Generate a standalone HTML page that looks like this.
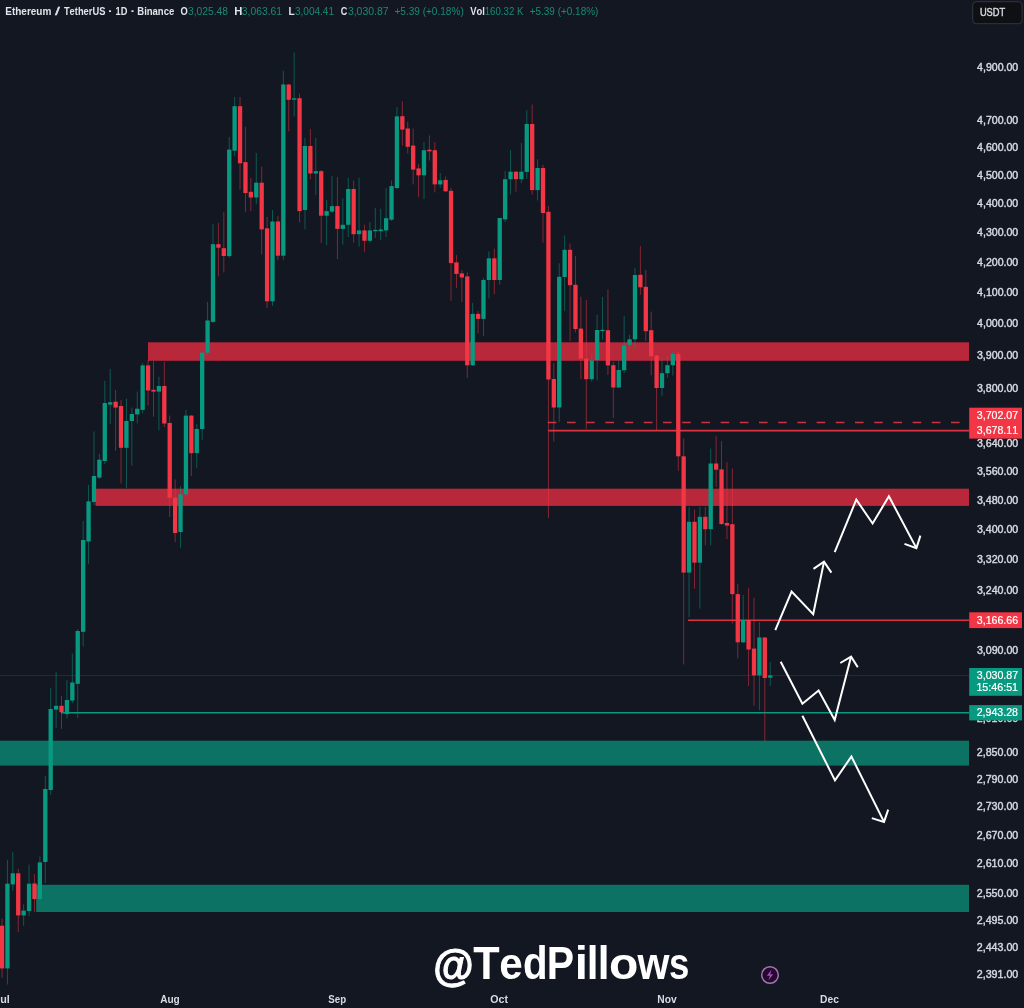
<!DOCTYPE html>
<html><head><meta charset="utf-8"><title>ETHUSDT</title>
<style>html,body{margin:0;padding:0;background:#131722;width:1024px;height:1008px;overflow:hidden}</style>
</head><body>
<svg width="1024" height="1008" viewBox="0 0 1024 1008" style="display:block;will-change:transform">
<rect x="0" y="0" width="1024" height="1008" fill="#131722"/>
<rect x="148" y="342.3" width="821" height="18.50" fill="#b8283a"/>
<rect x="95.5" y="488.7" width="873.5" height="17.20" fill="#b8283a"/>
<rect x="0" y="740.7" width="969" height="24.90" fill="#0c7364"/>
<rect x="36.2" y="884.8" width="932.8" height="27.20" fill="#0c7364"/>
<line x1="0" y1="675.5" x2="969" y2="675.5" stroke="#222b33" stroke-width="1"/>
<line x1="547.8" y1="422.5" x2="969" y2="422.5" stroke="#f23645" stroke-width="1.6" stroke-dasharray="8.6 10.6" opacity="0.85"/>
<line x1="548.3" y1="430.6" x2="969" y2="430.6" stroke="#f23645" stroke-width="1.6" opacity="0.9"/>
<line x1="688" y1="620.2" x2="969" y2="620.2" stroke="#f23645" stroke-width="1.6" opacity="0.9"/>
<line x1="61" y1="712.8" x2="969" y2="712.8" stroke="#089981" stroke-width="1.6"/>
<rect x="1.50" y="918.6" width="1" height="59.20" fill="#f23645" opacity="0.5"/>
<rect x="-0.15" y="925.7" width="4.3" height="42.70" fill="#f23645"/>
<rect x="6.91" y="859.8" width="1" height="124.70" fill="#089981" opacity="0.5"/>
<rect x="5.26" y="883.7" width="4.3" height="84.70" fill="#089981"/>
<rect x="12.32" y="851.9" width="1" height="38.90" fill="#089981" opacity="0.5"/>
<rect x="10.67" y="873.3" width="4.3" height="11.10" fill="#089981"/>
<rect x="17.73" y="868.6" width="1" height="63.40" fill="#f23645" opacity="0.5"/>
<rect x="16.08" y="873.3" width="4.3" height="42.10" fill="#f23645"/>
<rect x="23.14" y="904.3" width="1" height="21.40" fill="#089981" opacity="0.5"/>
<rect x="21.49" y="910.6" width="4.3" height="4.80" fill="#089981"/>
<rect x="28.55" y="864.6" width="1" height="51.60" fill="#089981" opacity="0.5"/>
<rect x="26.90" y="883.7" width="4.3" height="27.30" fill="#089981"/>
<rect x="33.96" y="874.1" width="1" height="38.10" fill="#f23645" opacity="0.5"/>
<rect x="32.31" y="883.5" width="4.3" height="15.60" fill="#f23645"/>
<rect x="39.37" y="856.3" width="1" height="43.70" fill="#089981" opacity="0.5"/>
<rect x="37.72" y="862.4" width="4.3" height="36.60" fill="#089981"/>
<rect x="44.78" y="776" width="1" height="107.00" fill="#089981" opacity="0.5"/>
<rect x="43.13" y="789" width="4.3" height="73.00" fill="#089981"/>
<rect x="50.19" y="688" width="1" height="107.00" fill="#089981" opacity="0.5"/>
<rect x="48.54" y="709" width="4.3" height="81.00" fill="#089981"/>
<rect x="55.60" y="672.2" width="1" height="55.50" fill="#089981" opacity="0.5"/>
<rect x="53.95" y="705.8" width="4.3" height="3.80" fill="#089981"/>
<rect x="61.01" y="696" width="1" height="33.00" fill="#f23645" opacity="0.5"/>
<rect x="59.36" y="705.8" width="4.3" height="6.40" fill="#f23645"/>
<rect x="66.42" y="680" width="1" height="38.60" fill="#089981" opacity="0.5"/>
<rect x="64.77" y="700" width="4.3" height="14.10" fill="#089981"/>
<rect x="71.83" y="653.5" width="1" height="49.70" fill="#089981" opacity="0.5"/>
<rect x="70.18" y="682.5" width="4.3" height="18.10" fill="#089981"/>
<rect x="77.24" y="629" width="1" height="89.00" fill="#089981" opacity="0.5"/>
<rect x="75.59" y="631" width="4.3" height="52.80" fill="#089981"/>
<rect x="82.65" y="521" width="1" height="125.40" fill="#089981" opacity="0.5"/>
<rect x="81.00" y="540" width="4.3" height="91.80" fill="#089981"/>
<rect x="88.06" y="485" width="1" height="78.90" fill="#089981" opacity="0.5"/>
<rect x="86.41" y="501.4" width="4.3" height="40.10" fill="#089981"/>
<rect x="93.47" y="431.4" width="1" height="73.60" fill="#089981" opacity="0.5"/>
<rect x="91.82" y="476" width="4.3" height="26.00" fill="#089981"/>
<rect x="98.88" y="453.8" width="1" height="25.20" fill="#089981" opacity="0.5"/>
<rect x="97.23" y="459.7" width="4.3" height="17.90" fill="#089981"/>
<rect x="104.29" y="380.8" width="1" height="83.20" fill="#089981" opacity="0.5"/>
<rect x="102.64" y="403" width="4.3" height="58.00" fill="#089981"/>
<rect x="109.70" y="369" width="1" height="55.00" fill="#089981" opacity="0.5"/>
<rect x="108.05" y="402.3" width="4.3" height="2.30" fill="#089981"/>
<rect x="115.11" y="389.8" width="1" height="61.00" fill="#f23645" opacity="0.5"/>
<rect x="113.46" y="401.7" width="4.3" height="5.90" fill="#f23645"/>
<rect x="120.52" y="400" width="1" height="83.50" fill="#f23645" opacity="0.5"/>
<rect x="118.87" y="406" width="4.3" height="41.80" fill="#f23645"/>
<rect x="125.93" y="398.7" width="1" height="89.30" fill="#089981" opacity="0.5"/>
<rect x="124.28" y="421" width="4.3" height="26.80" fill="#089981"/>
<rect x="131.34" y="407.6" width="1" height="58.10" fill="#089981" opacity="0.5"/>
<rect x="129.69" y="414" width="4.3" height="7.00" fill="#089981"/>
<rect x="136.75" y="391.6" width="1" height="31.90" fill="#089981" opacity="0.5"/>
<rect x="135.10" y="408.7" width="4.3" height="5.70" fill="#089981"/>
<rect x="142.16" y="363" width="1" height="50.30" fill="#089981" opacity="0.5"/>
<rect x="140.51" y="365.4" width="4.3" height="44.50" fill="#089981"/>
<rect x="147.57" y="359.7" width="1" height="45.60" fill="#f23645" opacity="0.5"/>
<rect x="145.92" y="365.4" width="4.3" height="25.10" fill="#f23645"/>
<rect x="152.98" y="360.8" width="1" height="55.90" fill="#f23645" opacity="0.5"/>
<rect x="151.33" y="389.8" width="4.3" height="1.80" fill="#f23645"/>
<rect x="158.39" y="376.8" width="1" height="53.60" fill="#089981" opacity="0.5"/>
<rect x="156.74" y="386" width="4.3" height="5.60" fill="#089981"/>
<rect x="163.80" y="362" width="1" height="65.00" fill="#f23645" opacity="0.5"/>
<rect x="162.15" y="386" width="4.3" height="37.50" fill="#f23645"/>
<rect x="169.21" y="415.6" width="1" height="101.40" fill="#f23645" opacity="0.5"/>
<rect x="167.56" y="423" width="4.3" height="74.70" fill="#f23645"/>
<rect x="174.62" y="479.4" width="1" height="62.80" fill="#f23645" opacity="0.5"/>
<rect x="172.97" y="497.7" width="4.3" height="35.30" fill="#f23645"/>
<rect x="180.03" y="486.3" width="1" height="61.60" fill="#089981" opacity="0.5"/>
<rect x="178.38" y="494.3" width="4.3" height="37.70" fill="#089981"/>
<rect x="185.44" y="409.9" width="1" height="86.10" fill="#089981" opacity="0.5"/>
<rect x="183.79" y="415.6" width="4.3" height="78.70" fill="#089981"/>
<rect x="190.85" y="415" width="1" height="61.00" fill="#f23645" opacity="0.5"/>
<rect x="189.20" y="415.6" width="4.3" height="37.60" fill="#f23645"/>
<rect x="196.26" y="423.7" width="1" height="44.30" fill="#089981" opacity="0.5"/>
<rect x="194.61" y="429" width="4.3" height="24.10" fill="#089981"/>
<rect x="201.67" y="351" width="1" height="88.70" fill="#089981" opacity="0.5"/>
<rect x="200.02" y="352.7" width="4.3" height="76.30" fill="#089981"/>
<rect x="207.08" y="301.8" width="1" height="53.20" fill="#089981" opacity="0.5"/>
<rect x="205.43" y="320.5" width="4.3" height="32.20" fill="#089981"/>
<rect x="212.49" y="224" width="1" height="99.00" fill="#089981" opacity="0.5"/>
<rect x="210.84" y="244.2" width="4.3" height="77.70" fill="#089981"/>
<rect x="217.90" y="222.8" width="1" height="53.50" fill="#f23645" opacity="0.5"/>
<rect x="216.25" y="244.2" width="4.3" height="3.50" fill="#f23645"/>
<rect x="223.31" y="212" width="1" height="60.50" fill="#f23645" opacity="0.5"/>
<rect x="221.66" y="248.2" width="4.3" height="7.80" fill="#f23645"/>
<rect x="228.72" y="137" width="1" height="121.00" fill="#089981" opacity="0.5"/>
<rect x="227.07" y="149.6" width="4.3" height="106.50" fill="#089981"/>
<rect x="234.13" y="97" width="1" height="59.40" fill="#089981" opacity="0.5"/>
<rect x="232.48" y="106.2" width="4.3" height="44.50" fill="#089981"/>
<rect x="239.54" y="97" width="1" height="92.50" fill="#f23645" opacity="0.5"/>
<rect x="237.89" y="106.2" width="4.3" height="57.10" fill="#f23645"/>
<rect x="244.95" y="126.8" width="1" height="85.50" fill="#f23645" opacity="0.5"/>
<rect x="243.30" y="162.1" width="4.3" height="30.90" fill="#f23645"/>
<rect x="250.36" y="178" width="1" height="33.20" fill="#f23645" opacity="0.5"/>
<rect x="248.71" y="191.8" width="4.3" height="5.70" fill="#f23645"/>
<rect x="255.77" y="153" width="1" height="51.30" fill="#089981" opacity="0.5"/>
<rect x="254.12" y="182.7" width="4.3" height="14.80" fill="#089981"/>
<rect x="261.18" y="166.7" width="1" height="87.80" fill="#f23645" opacity="0.5"/>
<rect x="259.53" y="182.7" width="4.3" height="46.70" fill="#f23645"/>
<rect x="266.59" y="216.9" width="1" height="91.10" fill="#f23645" opacity="0.5"/>
<rect x="264.94" y="228.3" width="4.3" height="73.00" fill="#f23645"/>
<rect x="272.00" y="210" width="1" height="95.90" fill="#089981" opacity="0.5"/>
<rect x="270.35" y="221.5" width="4.3" height="79.80" fill="#089981"/>
<rect x="277.41" y="215.8" width="1" height="44.40" fill="#f23645" opacity="0.5"/>
<rect x="275.76" y="221.5" width="4.3" height="34.20" fill="#f23645"/>
<rect x="282.82" y="70.8" width="1" height="189.40" fill="#089981" opacity="0.5"/>
<rect x="281.17" y="84.5" width="4.3" height="171.20" fill="#089981"/>
<rect x="288.23" y="84" width="1" height="47.30" fill="#f23645" opacity="0.5"/>
<rect x="286.58" y="84.5" width="4.3" height="15.30" fill="#f23645"/>
<rect x="293.64" y="52.5" width="1" height="63.90" fill="#089981" opacity="0.5"/>
<rect x="291.99" y="98.3" width="4.3" height="1.40" fill="#089981"/>
<rect x="299.05" y="93.6" width="1" height="128.90" fill="#f23645" opacity="0.5"/>
<rect x="297.40" y="98.2" width="4.3" height="112.90" fill="#f23645"/>
<rect x="304.46" y="138" width="1" height="91.40" fill="#089981" opacity="0.5"/>
<rect x="302.81" y="146" width="4.3" height="64.00" fill="#089981"/>
<rect x="309.87" y="129" width="1" height="50.20" fill="#f23645" opacity="0.5"/>
<rect x="308.22" y="146" width="4.3" height="27.50" fill="#f23645"/>
<rect x="315.28" y="138" width="1" height="57.00" fill="#089981" opacity="0.5"/>
<rect x="313.63" y="171.2" width="4.3" height="2.30" fill="#089981"/>
<rect x="320.69" y="170" width="1" height="73.00" fill="#f23645" opacity="0.5"/>
<rect x="319.04" y="171.2" width="4.3" height="44.50" fill="#f23645"/>
<rect x="326.10" y="199.7" width="1" height="45.60" fill="#089981" opacity="0.5"/>
<rect x="324.45" y="211.1" width="4.3" height="4.60" fill="#089981"/>
<rect x="331.51" y="175.8" width="1" height="37.20" fill="#089981" opacity="0.5"/>
<rect x="329.86" y="206.1" width="4.3" height="5.50" fill="#089981"/>
<rect x="336.92" y="176.9" width="1" height="82.10" fill="#f23645" opacity="0.5"/>
<rect x="335.27" y="206.1" width="4.3" height="22.80" fill="#f23645"/>
<rect x="342.33" y="198.4" width="1" height="46.20" fill="#089981" opacity="0.5"/>
<rect x="340.68" y="224.8" width="4.3" height="4.10" fill="#089981"/>
<rect x="347.74" y="177.6" width="1" height="59.40" fill="#089981" opacity="0.5"/>
<rect x="346.09" y="189" width="4.3" height="35.80" fill="#089981"/>
<rect x="353.15" y="180.5" width="1" height="62.20" fill="#f23645" opacity="0.5"/>
<rect x="351.50" y="189" width="4.3" height="45.20" fill="#f23645"/>
<rect x="358.56" y="177.6" width="1" height="68.90" fill="#089981" opacity="0.5"/>
<rect x="356.91" y="230.4" width="4.3" height="3.80" fill="#089981"/>
<rect x="363.97" y="224.8" width="1" height="27.30" fill="#f23645" opacity="0.5"/>
<rect x="362.32" y="230.4" width="4.3" height="10.40" fill="#f23645"/>
<rect x="369.38" y="222" width="1" height="20.70" fill="#089981" opacity="0.5"/>
<rect x="367.73" y="230.4" width="4.3" height="10.40" fill="#089981"/>
<rect x="374.79" y="207.8" width="1" height="30.20" fill="#089981" opacity="0.5"/>
<rect x="373.14" y="229.9" width="4.3" height="1.30" fill="#089981"/>
<rect x="380.20" y="208.8" width="1" height="31.10" fill="#089981" opacity="0.5"/>
<rect x="378.55" y="229.5" width="4.3" height="1.70" fill="#089981"/>
<rect x="385.61" y="188" width="1" height="49.00" fill="#089981" opacity="0.5"/>
<rect x="383.96" y="218.2" width="4.3" height="12.20" fill="#089981"/>
<rect x="391.02" y="180.5" width="1" height="40.50" fill="#089981" opacity="0.5"/>
<rect x="389.37" y="186.1" width="4.3" height="33.60" fill="#089981"/>
<rect x="396.43" y="107" width="1" height="82.00" fill="#089981" opacity="0.5"/>
<rect x="394.78" y="116.4" width="4.3" height="71.60" fill="#089981"/>
<rect x="401.84" y="101.3" width="1" height="44.30" fill="#f23645" opacity="0.5"/>
<rect x="400.19" y="116.2" width="4.3" height="13.40" fill="#f23645"/>
<rect x="407.25" y="121.7" width="1" height="31.90" fill="#f23645" opacity="0.5"/>
<rect x="405.60" y="128.5" width="4.3" height="18.30" fill="#f23645"/>
<rect x="412.66" y="128.5" width="1" height="55.90" fill="#f23645" opacity="0.5"/>
<rect x="411.01" y="145.6" width="4.3" height="24.00" fill="#f23645"/>
<rect x="418.07" y="163.9" width="1" height="33.10" fill="#f23645" opacity="0.5"/>
<rect x="416.42" y="168.4" width="4.3" height="6.90" fill="#f23645"/>
<rect x="423.48" y="142.2" width="1" height="57.00" fill="#089981" opacity="0.5"/>
<rect x="421.83" y="150.2" width="4.3" height="25.10" fill="#089981"/>
<rect x="428.89" y="135.4" width="1" height="25.10" fill="#f23645" opacity="0.5"/>
<rect x="427.24" y="149.7" width="4.3" height="1.60" fill="#f23645"/>
<rect x="434.30" y="142.2" width="1" height="50.20" fill="#f23645" opacity="0.5"/>
<rect x="432.65" y="150.2" width="4.3" height="34.20" fill="#f23645"/>
<rect x="439.71" y="173" width="1" height="14.80" fill="#089981" opacity="0.5"/>
<rect x="438.06" y="180.3" width="4.3" height="4.10" fill="#089981"/>
<rect x="445.12" y="176.4" width="1" height="15.60" fill="#f23645" opacity="0.5"/>
<rect x="443.47" y="179.9" width="4.3" height="11.40" fill="#f23645"/>
<rect x="450.53" y="187.8" width="1" height="113.00" fill="#f23645" opacity="0.5"/>
<rect x="448.88" y="190.8" width="4.3" height="72.30" fill="#f23645"/>
<rect x="455.94" y="255" width="1" height="33.20" fill="#f23645" opacity="0.5"/>
<rect x="454.29" y="262.4" width="4.3" height="11.50" fill="#f23645"/>
<rect x="461.35" y="270" width="1" height="32.00" fill="#f23645" opacity="0.5"/>
<rect x="459.70" y="273.4" width="4.3" height="4.10" fill="#f23645"/>
<rect x="466.76" y="272.2" width="1" height="105.60" fill="#f23645" opacity="0.5"/>
<rect x="465.11" y="276.4" width="4.3" height="88.90" fill="#f23645"/>
<rect x="472.17" y="302.8" width="1" height="63.20" fill="#089981" opacity="0.5"/>
<rect x="470.52" y="313.9" width="4.3" height="51.40" fill="#089981"/>
<rect x="477.58" y="311" width="1" height="22.30" fill="#f23645" opacity="0.5"/>
<rect x="475.93" y="313.9" width="4.3" height="5.00" fill="#f23645"/>
<rect x="482.99" y="277.8" width="1" height="58.20" fill="#089981" opacity="0.5"/>
<rect x="481.34" y="280" width="4.3" height="38.90" fill="#089981"/>
<rect x="488.40" y="251.4" width="1" height="47.20" fill="#089981" opacity="0.5"/>
<rect x="486.75" y="258.3" width="4.3" height="21.70" fill="#089981"/>
<rect x="493.81" y="248.6" width="1" height="45.80" fill="#f23645" opacity="0.5"/>
<rect x="492.16" y="258.3" width="4.3" height="21.70" fill="#f23645"/>
<rect x="499.22" y="218" width="1" height="66.70" fill="#089981" opacity="0.5"/>
<rect x="497.57" y="218" width="4.3" height="62.00" fill="#089981"/>
<rect x="504.63" y="170.8" width="1" height="51.20" fill="#089981" opacity="0.5"/>
<rect x="502.98" y="179.2" width="4.3" height="40.20" fill="#089981"/>
<rect x="510.04" y="150" width="1" height="44.40" fill="#089981" opacity="0.5"/>
<rect x="508.39" y="171.7" width="4.3" height="7.50" fill="#089981"/>
<rect x="515.45" y="171" width="1" height="20.70" fill="#f23645" opacity="0.5"/>
<rect x="513.80" y="171.7" width="4.3" height="7.50" fill="#f23645"/>
<rect x="520.86" y="143" width="1" height="40.30" fill="#089981" opacity="0.5"/>
<rect x="519.21" y="171.7" width="4.3" height="7.50" fill="#089981"/>
<rect x="526.27" y="110.3" width="1" height="68.40" fill="#089981" opacity="0.5"/>
<rect x="524.62" y="124" width="4.3" height="47.90" fill="#089981"/>
<rect x="531.68" y="104.6" width="1" height="90.10" fill="#f23645" opacity="0.5"/>
<rect x="530.03" y="124" width="4.3" height="66.10" fill="#f23645"/>
<rect x="537.09" y="159.3" width="1" height="41.10" fill="#089981" opacity="0.5"/>
<rect x="535.44" y="168" width="4.3" height="22.10" fill="#089981"/>
<rect x="542.50" y="165" width="1" height="77.60" fill="#f23645" opacity="0.5"/>
<rect x="540.85" y="168" width="4.3" height="45.00" fill="#f23645"/>
<rect x="547.91" y="206" width="1" height="312.00" fill="#f23645" opacity="0.5"/>
<rect x="546.26" y="211.8" width="4.3" height="167.70" fill="#f23645"/>
<rect x="553.32" y="363.3" width="1" height="78.40" fill="#f23645" opacity="0.5"/>
<rect x="551.67" y="379" width="4.3" height="28.50" fill="#f23645"/>
<rect x="558.73" y="263.3" width="1" height="159.00" fill="#089981" opacity="0.5"/>
<rect x="557.08" y="276.8" width="4.3" height="130.70" fill="#089981"/>
<rect x="564.14" y="235.6" width="1" height="75.40" fill="#089981" opacity="0.5"/>
<rect x="562.49" y="249.8" width="4.3" height="27.20" fill="#089981"/>
<rect x="569.55" y="243.5" width="1" height="97.50" fill="#f23645" opacity="0.5"/>
<rect x="567.90" y="249.8" width="4.3" height="35.40" fill="#f23645"/>
<rect x="574.96" y="256.2" width="1" height="76.20" fill="#f23645" opacity="0.5"/>
<rect x="573.31" y="284.8" width="4.3" height="44.20" fill="#f23645"/>
<rect x="580.37" y="296.7" width="1" height="82.50" fill="#f23645" opacity="0.5"/>
<rect x="578.72" y="328.6" width="4.3" height="30.00" fill="#f23645"/>
<rect x="585.78" y="300" width="1" height="129.00" fill="#f23645" opacity="0.5"/>
<rect x="584.13" y="358.6" width="4.3" height="20.60" fill="#f23645"/>
<rect x="591.19" y="355" width="1" height="26.60" fill="#089981" opacity="0.5"/>
<rect x="589.54" y="360.4" width="4.3" height="18.80" fill="#089981"/>
<rect x="596.60" y="314.7" width="1" height="65.70" fill="#089981" opacity="0.5"/>
<rect x="594.95" y="330" width="4.3" height="30.00" fill="#089981"/>
<rect x="602.01" y="297" width="1" height="42.50" fill="#089981" opacity="0.5"/>
<rect x="600.36" y="329.8" width="4.3" height="1.20" fill="#089981"/>
<rect x="607.42" y="289.4" width="1" height="85.60" fill="#f23645" opacity="0.5"/>
<rect x="605.77" y="330.2" width="4.3" height="35.20" fill="#f23645"/>
<rect x="612.83" y="361.6" width="1" height="56.30" fill="#f23645" opacity="0.5"/>
<rect x="611.18" y="365.2" width="4.3" height="22.30" fill="#f23645"/>
<rect x="618.24" y="360.7" width="1" height="27.30" fill="#089981" opacity="0.5"/>
<rect x="616.59" y="370" width="4.3" height="17.50" fill="#089981"/>
<rect x="623.65" y="316" width="1" height="57.00" fill="#089981" opacity="0.5"/>
<rect x="622.00" y="345.5" width="4.3" height="24.80" fill="#089981"/>
<rect x="629.06" y="334.8" width="1" height="15.20" fill="#089981" opacity="0.5"/>
<rect x="627.41" y="339.3" width="4.3" height="5.50" fill="#089981"/>
<rect x="634.47" y="267.7" width="1" height="81.30" fill="#089981" opacity="0.5"/>
<rect x="632.82" y="275" width="4.3" height="64.30" fill="#089981"/>
<rect x="639.88" y="246" width="1" height="48.80" fill="#f23645" opacity="0.5"/>
<rect x="638.23" y="274.8" width="4.3" height="12.50" fill="#f23645"/>
<rect x="645.29" y="269.8" width="1" height="71.20" fill="#f23645" opacity="0.5"/>
<rect x="643.64" y="286.8" width="4.3" height="44.40" fill="#f23645"/>
<rect x="650.70" y="311.6" width="1" height="63.70" fill="#f23645" opacity="0.5"/>
<rect x="649.05" y="330.2" width="4.3" height="26.00" fill="#f23645"/>
<rect x="656.11" y="355" width="1" height="75.20" fill="#f23645" opacity="0.5"/>
<rect x="654.46" y="355.6" width="4.3" height="32.40" fill="#f23645"/>
<rect x="661.52" y="359.5" width="1" height="36.50" fill="#089981" opacity="0.5"/>
<rect x="659.87" y="373.2" width="4.3" height="14.80" fill="#089981"/>
<rect x="666.93" y="356" width="1" height="21.80" fill="#089981" opacity="0.5"/>
<rect x="665.28" y="365.2" width="4.3" height="8.00" fill="#089981"/>
<rect x="672.34" y="351.5" width="1" height="24.00" fill="#089981" opacity="0.5"/>
<rect x="670.69" y="353.8" width="4.3" height="11.40" fill="#089981"/>
<rect x="677.75" y="351.5" width="1" height="119.50" fill="#f23645" opacity="0.5"/>
<rect x="676.10" y="353.8" width="4.3" height="102.50" fill="#f23645"/>
<rect x="683.16" y="438.5" width="1" height="225.90" fill="#f23645" opacity="0.5"/>
<rect x="681.51" y="456.3" width="4.3" height="116.30" fill="#f23645"/>
<rect x="688.57" y="506.9" width="1" height="110.40" fill="#089981" opacity="0.5"/>
<rect x="686.92" y="521.8" width="4.3" height="50.80" fill="#089981"/>
<rect x="693.98" y="509.4" width="1" height="79.30" fill="#f23645" opacity="0.5"/>
<rect x="692.33" y="521.8" width="4.3" height="40.90" fill="#f23645"/>
<rect x="699.39" y="506.9" width="1" height="101.70" fill="#089981" opacity="0.5"/>
<rect x="697.74" y="516.8" width="4.3" height="45.90" fill="#089981"/>
<rect x="704.80" y="506.9" width="1" height="38.40" fill="#f23645" opacity="0.5"/>
<rect x="703.15" y="516.8" width="4.3" height="12.40" fill="#f23645"/>
<rect x="710.21" y="448.6" width="1" height="96.70" fill="#089981" opacity="0.5"/>
<rect x="708.56" y="463.5" width="4.3" height="65.70" fill="#089981"/>
<rect x="715.62" y="436.2" width="1" height="50.80" fill="#f23645" opacity="0.5"/>
<rect x="713.97" y="463.5" width="4.3" height="6.20" fill="#f23645"/>
<rect x="721.03" y="441.2" width="1" height="83.80" fill="#f23645" opacity="0.5"/>
<rect x="719.38" y="469.4" width="4.3" height="54.60" fill="#f23645"/>
<rect x="726.44" y="462.2" width="1" height="76.80" fill="#f23645" opacity="0.5"/>
<rect x="724.79" y="523" width="4.3" height="2.50" fill="#f23645"/>
<rect x="731.85" y="468.4" width="1" height="155.20" fill="#f23645" opacity="0.5"/>
<rect x="730.20" y="524.2" width="4.3" height="69.90" fill="#f23645"/>
<rect x="737.26" y="584.3" width="1" height="74.10" fill="#f23645" opacity="0.5"/>
<rect x="735.61" y="594.1" width="4.3" height="48.20" fill="#f23645"/>
<rect x="742.67" y="595" width="1" height="48.00" fill="#089981" opacity="0.5"/>
<rect x="741.02" y="620" width="4.3" height="22.30" fill="#089981"/>
<rect x="748.08" y="587.9" width="1" height="98.10" fill="#f23645" opacity="0.5"/>
<rect x="746.43" y="620" width="4.3" height="29.50" fill="#f23645"/>
<rect x="753.49" y="597.7" width="1" height="108.00" fill="#f23645" opacity="0.5"/>
<rect x="751.84" y="648.6" width="4.3" height="26.80" fill="#f23645"/>
<rect x="758.90" y="621.8" width="1" height="88.40" fill="#089981" opacity="0.5"/>
<rect x="757.25" y="637.5" width="4.3" height="37.90" fill="#089981"/>
<rect x="764.31" y="637" width="1" height="104.40" fill="#f23645" opacity="0.5"/>
<rect x="762.66" y="637.5" width="4.3" height="40.50" fill="#f23645"/>
<rect x="769.72" y="662" width="1" height="24.00" fill="#089981" opacity="0.5"/>
<rect x="768.07" y="675.4" width="4.3" height="2.30" fill="#089981"/>
<polyline points="775.3,630.2 791.6,591.6 813.2,614.1 824,561.7" fill="none" stroke="#ffffff" stroke-width="2" stroke-linejoin="miter" stroke-linecap="butt"/>
<polyline points="813.5,568.8 824,561.7 831.4,572.6" fill="none" stroke="#ffffff" stroke-width="2" stroke-linejoin="miter" stroke-linecap="butt"/>
<polyline points="834.7,552.2 856.3,499.6 872.6,523.5 888.9,496.3 916.4,548.1" fill="none" stroke="#ffffff" stroke-width="2" stroke-linejoin="miter" stroke-linecap="butt"/>
<polyline points="904.5,543.9 916.4,548.1 920.4,535.6" fill="none" stroke="#ffffff" stroke-width="2" stroke-linejoin="miter" stroke-linecap="butt"/>
<polyline points="780.7,661.7 802.4,703.7 818.6,690.5 834.7,720.1 851.1,656.6" fill="none" stroke="#ffffff" stroke-width="2" stroke-linejoin="miter" stroke-linecap="butt"/>
<polyline points="840.3,663 851.1,656.6 857.8,667.3" fill="none" stroke="#ffffff" stroke-width="2" stroke-linejoin="miter" stroke-linecap="butt"/>
<polyline points="802.4,715.8 835,780.4 851.4,756.5 884,821.9" fill="none" stroke="#ffffff" stroke-width="2" stroke-linejoin="miter" stroke-linecap="butt"/>
<polyline points="871.8,818.1 884,821.9 888.2,809.7" fill="none" stroke="#ffffff" stroke-width="2" stroke-linejoin="miter" stroke-linecap="butt"/>
<text transform="translate(977.06,70.8) scale(1.0191,1)" font-family='"Liberation Sans", sans-serif' font-size="10.4" font-weight="normal" fill="#d8dbe2" style="font-kerning:none" stroke="#d1d4dc" stroke-width="0.45">4,900.00</text>
<text transform="translate(977.06,123.5) scale(1.0191,1)" font-family='"Liberation Sans", sans-serif' font-size="10.4" font-weight="normal" fill="#d8dbe2" style="font-kerning:none" stroke="#d1d4dc" stroke-width="0.45">4,700.00</text>
<text transform="translate(977.06,150.7) scale(1.0191,1)" font-family='"Liberation Sans", sans-serif' font-size="10.4" font-weight="normal" fill="#d8dbe2" style="font-kerning:none" stroke="#d1d4dc" stroke-width="0.45">4,600.00</text>
<text transform="translate(977.06,178.5) scale(1.0191,1)" font-family='"Liberation Sans", sans-serif' font-size="10.4" font-weight="normal" fill="#d8dbe2" style="font-kerning:none" stroke="#d1d4dc" stroke-width="0.45">4,500.00</text>
<text transform="translate(977.06,206.9) scale(1.0191,1)" font-family='"Liberation Sans", sans-serif' font-size="10.4" font-weight="normal" fill="#d8dbe2" style="font-kerning:none" stroke="#d1d4dc" stroke-width="0.45">4,400.00</text>
<text transform="translate(977.06,236.0) scale(1.0191,1)" font-family='"Liberation Sans", sans-serif' font-size="10.4" font-weight="normal" fill="#d8dbe2" style="font-kerning:none" stroke="#d1d4dc" stroke-width="0.45">4,300.00</text>
<text transform="translate(977.06,265.7) scale(1.0191,1)" font-family='"Liberation Sans", sans-serif' font-size="10.4" font-weight="normal" fill="#d8dbe2" style="font-kerning:none" stroke="#d1d4dc" stroke-width="0.45">4,200.00</text>
<text transform="translate(977.06,296.2) scale(1.0191,1)" font-family='"Liberation Sans", sans-serif' font-size="10.4" font-weight="normal" fill="#d8dbe2" style="font-kerning:none" stroke="#d1d4dc" stroke-width="0.45">4,100.00</text>
<text transform="translate(977.06,327.4) scale(1.0191,1)" font-family='"Liberation Sans", sans-serif' font-size="10.4" font-weight="normal" fill="#d8dbe2" style="font-kerning:none" stroke="#d1d4dc" stroke-width="0.45">4,000.00</text>
<text transform="translate(976.89,359.4) scale(1.0232,1)" font-family='"Liberation Sans", sans-serif' font-size="10.4" font-weight="normal" fill="#d8dbe2" style="font-kerning:none" stroke="#d1d4dc" stroke-width="0.45">3,900.00</text>
<text transform="translate(976.89,392.3) scale(1.0232,1)" font-family='"Liberation Sans", sans-serif' font-size="10.4" font-weight="normal" fill="#d8dbe2" style="font-kerning:none" stroke="#d1d4dc" stroke-width="0.45">3,800.00</text>
<text transform="translate(976.89,446.7) scale(1.0232,1)" font-family='"Liberation Sans", sans-serif' font-size="10.4" font-weight="normal" fill="#d8dbe2" style="font-kerning:none" stroke="#d1d4dc" stroke-width="0.45">3,640.00</text>
<text transform="translate(976.89,474.8) scale(1.0232,1)" font-family='"Liberation Sans", sans-serif' font-size="10.4" font-weight="normal" fill="#d8dbe2" style="font-kerning:none" stroke="#d1d4dc" stroke-width="0.45">3,560.00</text>
<text transform="translate(976.89,503.5) scale(1.0232,1)" font-family='"Liberation Sans", sans-serif' font-size="10.4" font-weight="normal" fill="#d8dbe2" style="font-kerning:none" stroke="#d1d4dc" stroke-width="0.45">3,480.00</text>
<text transform="translate(976.89,532.9) scale(1.0232,1)" font-family='"Liberation Sans", sans-serif' font-size="10.4" font-weight="normal" fill="#d8dbe2" style="font-kerning:none" stroke="#d1d4dc" stroke-width="0.45">3,400.00</text>
<text transform="translate(976.89,563.0) scale(1.0232,1)" font-family='"Liberation Sans", sans-serif' font-size="10.4" font-weight="normal" fill="#d8dbe2" style="font-kerning:none" stroke="#d1d4dc" stroke-width="0.45">3,320.00</text>
<text transform="translate(976.89,593.9) scale(1.0232,1)" font-family='"Liberation Sans", sans-serif' font-size="10.4" font-weight="normal" fill="#d8dbe2" style="font-kerning:none" stroke="#d1d4dc" stroke-width="0.45">3,240.00</text>
<text transform="translate(976.89,653.8) scale(1.0232,1)" font-family='"Liberation Sans", sans-serif' font-size="10.4" font-weight="normal" fill="#d8dbe2" style="font-kerning:none" stroke="#d1d4dc" stroke-width="0.45">3,090.00</text>
<text transform="translate(976.76,756.1) scale(1.0265,1)" font-family='"Liberation Sans", sans-serif' font-size="10.4" font-weight="normal" fill="#d8dbe2" style="font-kerning:none" stroke="#d1d4dc" stroke-width="0.45">2,850.00</text>
<text transform="translate(976.76,783.0) scale(1.0265,1)" font-family='"Liberation Sans", sans-serif' font-size="10.4" font-weight="normal" fill="#d8dbe2" style="font-kerning:none" stroke="#d1d4dc" stroke-width="0.45">2,790.00</text>
<text transform="translate(976.76,810.4) scale(1.0265,1)" font-family='"Liberation Sans", sans-serif' font-size="10.4" font-weight="normal" fill="#d8dbe2" style="font-kerning:none" stroke="#d1d4dc" stroke-width="0.45">2,730.00</text>
<text transform="translate(976.76,838.5) scale(1.0265,1)" font-family='"Liberation Sans", sans-serif' font-size="10.4" font-weight="normal" fill="#d8dbe2" style="font-kerning:none" stroke="#d1d4dc" stroke-width="0.45">2,670.00</text>
<text transform="translate(976.76,867.3) scale(1.0265,1)" font-family='"Liberation Sans", sans-serif' font-size="10.4" font-weight="normal" fill="#d8dbe2" style="font-kerning:none" stroke="#d1d4dc" stroke-width="0.45">2,610.00</text>
<text transform="translate(976.76,896.7) scale(1.0265,1)" font-family='"Liberation Sans", sans-serif' font-size="10.4" font-weight="normal" fill="#d8dbe2" style="font-kerning:none" stroke="#d1d4dc" stroke-width="0.45">2,550.00</text>
<text transform="translate(976.76,924.3) scale(1.0265,1)" font-family='"Liberation Sans", sans-serif' font-size="10.4" font-weight="normal" fill="#d8dbe2" style="font-kerning:none" stroke="#d1d4dc" stroke-width="0.45">2,495.00</text>
<text transform="translate(976.76,950.9) scale(1.0265,1)" font-family='"Liberation Sans", sans-serif' font-size="10.4" font-weight="normal" fill="#d8dbe2" style="font-kerning:none" stroke="#d1d4dc" stroke-width="0.45">2,443.00</text>
<text transform="translate(976.76,978.1) scale(1.0265,1)" font-family='"Liberation Sans", sans-serif' font-size="10.4" font-weight="normal" fill="#d8dbe2" style="font-kerning:none" stroke="#d1d4dc" stroke-width="0.45">2,391.00</text>
<text transform="translate(976.76,722.2) scale(1.0265,1)" font-family='"Liberation Sans", sans-serif' font-size="10.4" font-weight="normal" fill="#d8dbe2" style="font-kerning:none" stroke="#d1d4dc" stroke-width="0.45">2,910.00</text>
<rect x="969.2" y="407.7" width="52.8" height="30.90" fill="#f23645"/>
<text transform="translate(976.80,419.1) scale(1.0211,1)" font-family='"Liberation Sans", sans-serif' font-size="10.4" font-weight="normal" fill="#ffffff" style="font-kerning:none" stroke="#ffffff" stroke-width="0.2">3,702.07</text>
<text transform="translate(976.80,434.3) scale(1.0207,1)" font-family='"Liberation Sans", sans-serif' font-size="10.4" font-weight="normal" fill="#ffffff" style="font-kerning:none" stroke="#ffffff" stroke-width="0.2">3,678.11</text>
<rect x="969.2" y="612.3" width="52.8" height="15.80" fill="#f23645"/>
<text transform="translate(976.80,623.9) scale(1.0194,1)" font-family='"Liberation Sans", sans-serif' font-size="10.4" font-weight="normal" fill="#ffffff" style="font-kerning:none" stroke="#ffffff" stroke-width="0.2">3,166.66</text>
<rect x="969.2" y="668" width="52.8" height="27.80" fill="#089981"/>
<text transform="translate(976.80,678.8) scale(1.0211,1)" font-family='"Liberation Sans", sans-serif' font-size="10.4" font-weight="normal" fill="#ffffff" style="font-kerning:none" stroke="#ffffff" stroke-width="0.2">3,030.87</text>
<text transform="translate(976.38,690.9) scale(1.0311,1)" font-family='"Liberation Sans", sans-serif' font-size="10.4" font-weight="normal" fill="#ffffff" style="font-kerning:none" stroke="#ffffff" stroke-width="0.2">15:46:51</text>
<rect x="969.2" y="705.1" width="52.8" height="15.30" fill="#089981"/>
<text transform="translate(976.67,715.9) scale(1.0226,1)" font-family='"Liberation Sans", sans-serif' font-size="10.4" font-weight="normal" fill="#ffffff" style="font-kerning:none" stroke="#ffffff" stroke-width="0.2">2,943.28</text>
<rect x="972.7" y="1.7" width="49.4" height="22" rx="3.5" fill="#0f1013" stroke="#33363f" stroke-width="1"/>
<text transform="translate(979.88,16.3) scale(0.8948,1)" font-family='"Liberation Sans", sans-serif' font-size="10.4" font-weight="normal" fill="#d8dbe2" style="font-kerning:none" stroke="#d1d4dc" stroke-width="0.45">USDT</text>
<text transform="translate(5.23,15.3) scale(0.9723,1)" font-family='"Liberation Sans", sans-serif' font-size="10.3" font-weight="bold" fill="#e1e4ea" style="font-kerning:none" >Ethereum</text>
<text transform="translate(63.89,15.3) scale(0.9079,1)" font-family='"Liberation Sans", sans-serif' font-size="10.3" font-weight="bold" fill="#e1e4ea" style="font-kerning:none" >TetherUS</text>
<text transform="translate(108.02,15.3) scale(1.3808,1)" font-family='"Liberation Sans", sans-serif' font-size="10.3" font-weight="bold" fill="#e1e4ea" style="font-kerning:none" >·</text>
<text transform="translate(115.61,15.3) scale(0.9019,1)" font-family='"Liberation Sans", sans-serif' font-size="10.3" font-weight="bold" fill="#e1e4ea" style="font-kerning:none" >1D</text>
<text transform="translate(130.52,15.3) scale(1.3808,1)" font-family='"Liberation Sans", sans-serif' font-size="10.3" font-weight="bold" fill="#e1e4ea" style="font-kerning:none" >·</text>
<text transform="translate(137.26,15.3) scale(0.9250,1)" font-family='"Liberation Sans", sans-serif' font-size="10.3" font-weight="bold" fill="#e1e4ea" style="font-kerning:none" >Binance</text>
<text transform="translate(180.52,15.3) scale(0.9082,1)" font-family='"Liberation Sans", sans-serif' font-size="10.3" font-weight="bold" fill="#e1e4ea" style="font-kerning:none" >O</text>
<text transform="translate(234.25,15.3) scale(1.0900,1)" font-family='"Liberation Sans", sans-serif' font-size="10.3" font-weight="bold" fill="#e1e4ea" style="font-kerning:none" >H</text>
<text transform="translate(288.52,15.3) scale(0.9838,1)" font-family='"Liberation Sans", sans-serif' font-size="10.3" font-weight="bold" fill="#e1e4ea" style="font-kerning:none" >L</text>
<text transform="translate(340.83,15.3) scale(0.8761,1)" font-family='"Liberation Sans", sans-serif' font-size="10.3" font-weight="bold" fill="#e1e4ea" style="font-kerning:none" >C</text>
<text transform="translate(470.24,15.3) scale(0.9196,1)" font-family='"Liberation Sans", sans-serif' font-size="10.3" font-weight="bold" fill="#e1e4ea" style="font-kerning:none" >Vol</text>
<text transform="translate(55.20,15.3) scale(1.5376,1)" font-family='"Liberation Sans", sans-serif' font-size="10.3" font-weight="normal" fill="#e1e4ea" style="font-kerning:none" stroke="#e1e4ea" stroke-width="0.5">/</text>
<text transform="translate(187.91,15.3) scale(1.0037,1)" font-family='"Liberation Sans", sans-serif' font-size="10.3" font-weight="normal" fill="#188a75" style="font-kerning:none" >3,025.48</text>
<text transform="translate(241.81,15.3) scale(1.0051,1)" font-family='"Liberation Sans", sans-serif' font-size="10.3" font-weight="normal" fill="#188a75" style="font-kerning:none" >3,063.61</text>
<text transform="translate(294.92,15.3) scale(0.9771,1)" font-family='"Liberation Sans", sans-serif' font-size="10.3" font-weight="normal" fill="#188a75" style="font-kerning:none" >3,004.41</text>
<text transform="translate(347.90,15.3) scale(1.0157,1)" font-family='"Liberation Sans", sans-serif' font-size="10.3" font-weight="normal" fill="#188a75" style="font-kerning:none" >3,030.87</text>
<text transform="translate(394.41,15.3) scale(0.9776,1)" font-family='"Liberation Sans", sans-serif' font-size="10.3" font-weight="normal" fill="#188a75" style="font-kerning:none" >+5.39 (+0.18%)</text>
<text transform="translate(484.66,15.3) scale(0.9421,1)" font-family='"Liberation Sans", sans-serif' font-size="10.3" font-weight="normal" fill="#188a75" style="font-kerning:none" >160.32 K</text>
<text transform="translate(529.71,15.3) scale(0.9676,1)" font-family='"Liberation Sans", sans-serif' font-size="10.3" font-weight="normal" fill="#188a75" style="font-kerning:none" >+5.39 (+0.18%)</text>
<text transform="translate(-5.76,1003.2) scale(1.0016,1)" font-family='"Liberation Sans", sans-serif' font-size="10.8" font-weight="bold" fill="#d8dbe2" style="font-kerning:none" >Jul</text>
<text transform="translate(160.15,1003.2) scale(0.9349,1)" font-family='"Liberation Sans", sans-serif' font-size="10.8" font-weight="bold" fill="#d8dbe2" style="font-kerning:none" >Aug</text>
<text transform="translate(328.32,1003.2) scale(0.9027,1)" font-family='"Liberation Sans", sans-serif' font-size="10.8" font-weight="bold" fill="#d8dbe2" style="font-kerning:none" >Sep</text>
<text transform="translate(490.26,1003.2) scale(0.9869,1)" font-family='"Liberation Sans", sans-serif' font-size="10.8" font-weight="bold" fill="#d8dbe2" style="font-kerning:none" >Oct</text>
<text transform="translate(657.21,1003.2) scale(0.9525,1)" font-family='"Liberation Sans", sans-serif' font-size="10.8" font-weight="bold" fill="#d8dbe2" style="font-kerning:none" >Nov</text>
<text transform="translate(820.11,1003.2) scale(0.9481,1)" font-family='"Liberation Sans", sans-serif' font-size="10.8" font-weight="bold" fill="#d8dbe2" style="font-kerning:none" >Dec</text>
<text transform="translate(433.33,980.8) scale(0.898,0.975)" font-family='"Liberation Sans", sans-serif' font-size="46.1" font-weight="bold" fill="#ffffff" stroke="#ffffff" stroke-width="1.1">@</text>
<text transform="translate(473.32,978.8) scale(0.936,1.000)" font-family='"Liberation Sans", sans-serif' font-size="46.1" font-weight="bold" fill="#ffffff">T</text>
<text transform="translate(499.35,978.8) scale(0.916,0.950)" font-family='"Liberation Sans", sans-serif' font-size="46.1" font-weight="bold" fill="#ffffff">e</text>
<text transform="translate(522.95,978.8) scale(0.874,1.000)" font-family='"Liberation Sans", sans-serif' font-size="46.1" font-weight="bold" fill="#ffffff">d</text>
<text transform="translate(546.86,978.8) scale(0.889,1.000)" font-family='"Liberation Sans", sans-serif' font-size="46.1" font-weight="bold" fill="#ffffff">P</text>
<text transform="translate(574.69,978.8) scale(1.028,1.000)" font-family='"Liberation Sans", sans-serif' font-size="46.1" font-weight="bold" fill="#ffffff">i</text>
<text transform="translate(586.75,978.8) scale(0.917,1.000)" font-family='"Liberation Sans", sans-serif' font-size="46.1" font-weight="bold" fill="#ffffff">l</text>
<text transform="translate(597.75,978.8) scale(0.917,1.000)" font-family='"Liberation Sans", sans-serif' font-size="46.1" font-weight="bold" fill="#ffffff">l</text>
<text transform="translate(609.02,978.8) scale(1.042,0.950)" font-family='"Liberation Sans", sans-serif' font-size="46.1" font-weight="bold" fill="#ffffff">o</text>
<text transform="translate(637.42,978.8) scale(0.892,0.950)" font-family='"Liberation Sans", sans-serif' font-size="46.1" font-weight="bold" fill="#ffffff">w</text>
<text transform="translate(668.91,978.8) scale(0.795,0.950)" font-family='"Liberation Sans", sans-serif' font-size="46.1" font-weight="bold" fill="#ffffff">s</text>
<circle cx="770" cy="975" r="8.3" fill="#260a2b" stroke="#a572b5" stroke-width="1.5"/>
<path d="M771.6,969.6 L766.9,975.8 L769.9,975.8 L768.4,980.4 L773.1,974.2 L770.1,974.2 Z" fill="#a24fc0"/>
</svg>
</body></html>
